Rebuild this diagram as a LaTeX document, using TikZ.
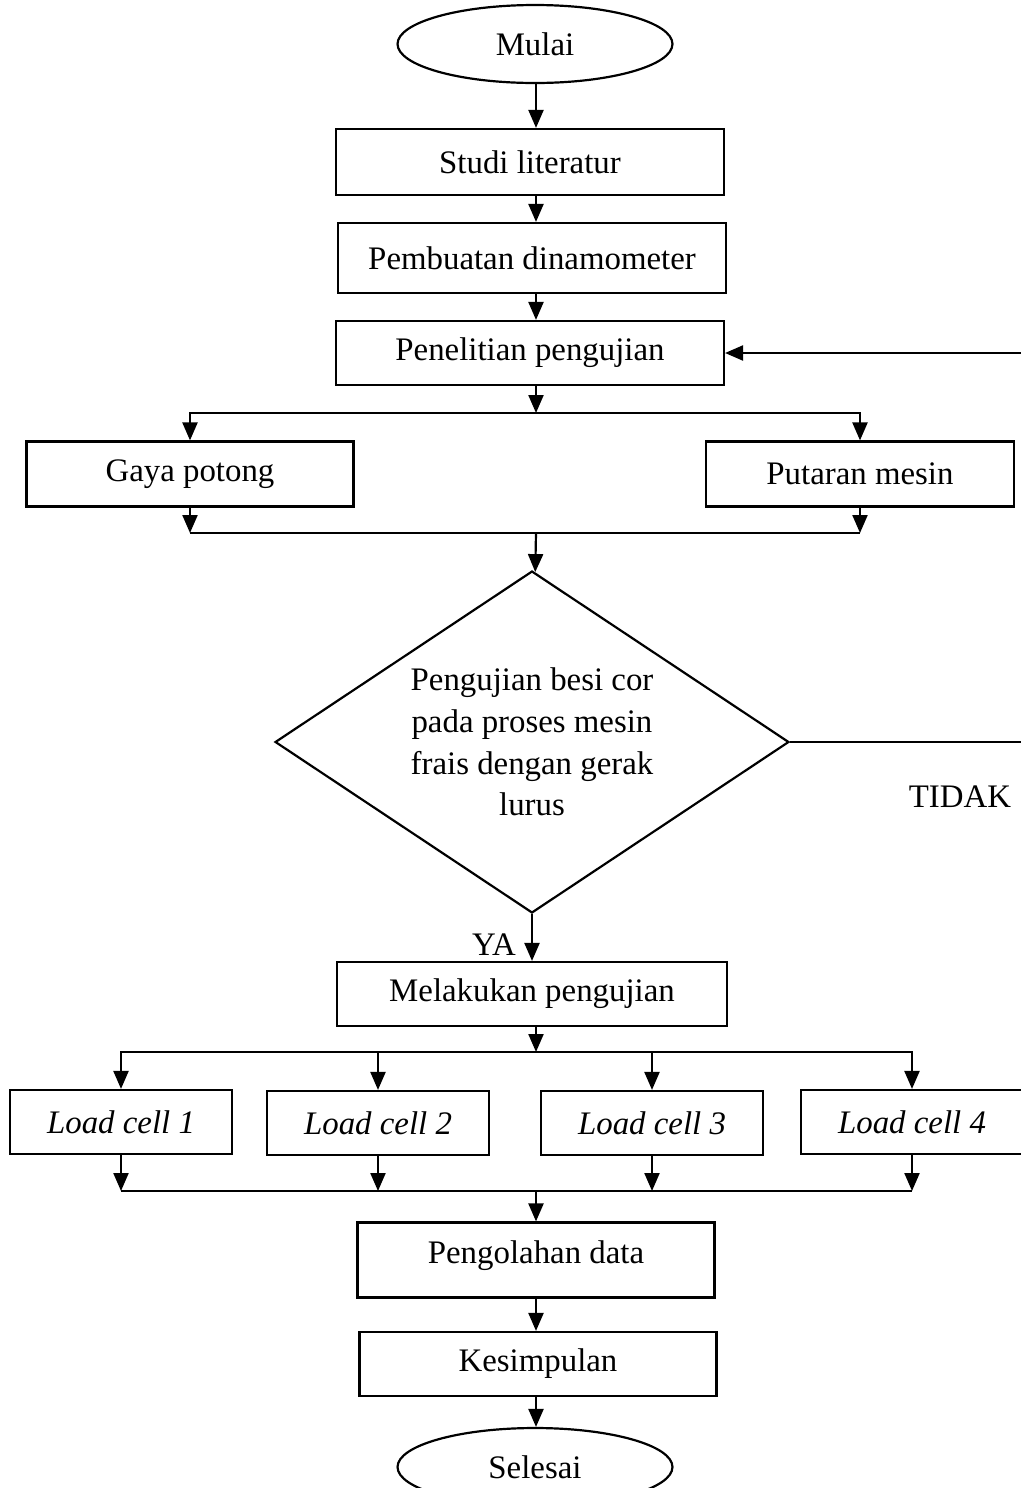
\documentclass[tikz,border=0pt]{standalone}
\usepackage{fontspec}
\setmainfont{Liberation Serif}
\usetikzlibrary{shapes.geometric,arrows.meta}
\begin{document}
\begin{tikzpicture}[x=.02cm,y=-.02cm,>={Triangle[length=.36cm,width=.3cm]},line width=1.25pt,
  font=\fontsize{18.7}{23.8}\selectfont,
  box/.style={draw,rectangle,inner sep=0pt,minimum height=1.28cm},
  term/.style={draw,ellipse,inner sep=0pt,minimum width=5.5cm,minimum height=1.56cm},
  ask/.style={draw,diamond,aspect=1.5,inner sep=0pt,align=center,minimum width=10.28cm,minimum height=6.84cm},
  cell/.style={box,minimum width=4.44cm,font=\fontsize{18.7}{23.8}\selectfont\itshape}]
  \useasboundingbox (0,0) rectangle (1021,1488);
  \coordinate (spine) at (536,0);
  \node[term] (start) at (535,44) {Mulai};
  \node[box,minimum width=7.76cm,minimum height=1.32cm] (lit) at (530,162) {Studi literatur};
  \node[box,minimum width=7.76cm,minimum height=1.4cm] (dyn) at (532,258) {Pembuatan dinamometer};
  \node[box,minimum width=7.76cm] (test) at (530,353) {Penelitian pengujian};
  \node[box,minimum width=6.54cm,minimum height=1.3cm] (force) at (190,474) {Gaya potong};
  \node[box,minimum width=6.16cm,minimum height=1.3cm] (rpm) at (860,474) {Putaran mesin};
  \node[ask] (check) at (532,742) {Pengujian besi cor\\pada proses mesin\\frais dengan gerak\\lurus};
  \node (no) at (960,797) {TIDAK};
  \node (yes) at (494,945) {YA};
  \node[box,minimum width=7.8cm] (run) at (532,994) {Melakukan pengujian};
  \node[cell] (cell1) at (121,1122) {Load cell 1};
  \node[cell] (cell2) at (378,1123) {Load cell 2};
  \node[cell] (cell3) at (652,1123) {Load cell 3};
  \node[cell] (cell4) at (912,1122) {Load cell 4};
  \node[box,minimum width=7.14cm,minimum height=1.5cm,text depth=.3cm] (proc) at (536,1260) {Pengolahan data};
  \node[box,minimum width=7.14cm] (concl) at (538,1364) {Kesimpulan};
  \node[term] (stop) at (535,1467) {Selesai};
  % main column
  \draw[->] (start.south -| spine) -- (lit.north -| spine);
  \draw[->] (lit.south -| spine) -- (dyn.north -| spine);
  \draw[->] (dyn.south -| spine) -- (test.north -| spine);
  % split to the two measurements
  \coordinate (split1) at (536,413);
  \coordinate (join1) at (536,533);
  \draw[->] (test.south -| spine) -- (split1);
  \draw[->] (split1) -| (force);
  \draw[->] (split1) -| (rpm);
  \draw[->] (force) -- (force |- join1);
  \draw[->] (rpm) -- (rpm |- join1);
  \draw (force |- join1) -- (rpm |- join1);
  \draw[->] (join1) -- (check);
  % back to the test when not
  \coordinate (back) at (1024,742);
  \draw[->] (check.east) -- (back) |- (test.east);
  \draw[->] (check.south) -- (run);
  % split to the load cells
  \coordinate (split2) at (536,1052);
  \coordinate (join2) at (536,1191);
  \draw[->] (run.south -| spine) -- (split2);
  \draw[->] (split2) -| (cell1);
  \draw[->] (split2) -| (cell2);
  \draw[->] (split2) -| (cell3);
  \draw[->] (split2) -| (cell4);
  \draw[->] (cell1) -- (cell1 |- join2);
  \draw[->] (cell2) -- (cell2 |- join2);
  \draw[->] (cell3) -- (cell3 |- join2);
  \draw[->] (cell4) -- (cell4 |- join2);
  \draw (cell1 |- join2) -- (cell4 |- join2);
  \draw[->] (join2 -| spine) -- (proc.north -| spine);
  \draw[->] (proc.south -| spine) -- (concl.north -| spine);
  \draw[->] (concl.south -| spine) -- (stop.north -| spine);
\end{tikzpicture}
\end{document}
